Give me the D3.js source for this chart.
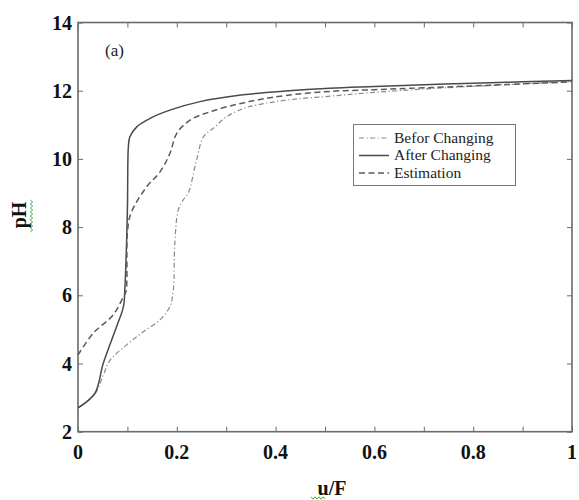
<!DOCTYPE html>
<html>
<head>
<meta charset="utf-8">
<script src="https://cdn.jsdelivr.net/npm/d3@7"></script>
<style>
  html, body { margin: 0; padding: 0; background: #fff; }
  svg { display: block; }
</style>
</head>
<body>
<svg id="chart" width="579" height="500"></svg>
<script>
// Titration curves: pH versus u/F
const uBefore = [0, 0.034, 0.051, 0.065, 0.098, 0.132, 0.166, 0.186, 0.193, 0.196, 0.203, 0.213, 0.223, 0.240, 0.254, 0.274, 0.301, 0.335, 0.362, 0.42, 0.51, 0.6, 0.7, 0.8, 0.9, 1.0];
const pHBefore = [2.7, 3.1, 3.65, 4.1, 4.54, 4.93, 5.28, 5.67, 6.16, 7.53, 8.5, 8.8, 8.99, 9.97, 10.65, 10.9, 11.24, 11.48, 11.58, 11.72, 11.84, 11.95, 12.05, 12.13, 12.2, 12.27];

const uAfter = [0, 0.034, 0.051, 0.078, 0.092, 0.095, 0.100, 0.102, 0.105, 0.119, 0.146, 0.186, 0.247, 0.334, 0.42, 0.51, 0.6, 0.672, 0.8, 0.9, 1.0];
const pHAfter = [2.7, 3.12, 4.0, 5.08, 5.67, 6.25, 8.5, 10.36, 10.65, 10.94, 11.19, 11.43, 11.68, 11.88, 11.99, 12.07, 12.12, 12.16, 12.22, 12.26, 12.3];

const uEst = [0, 0.031, 0.071, 0.092, 0.097, 0.100, 0.107, 0.139, 0.166, 0.186, 0.200, 0.227, 0.267, 0.321, 0.368, 0.42, 0.51, 0.6, 0.672, 0.8, 0.9, 1.0];
const pHEst = [4.25, 4.89, 5.42, 5.96, 6.1, 7.83, 8.4, 9.18, 9.62, 10.16, 10.75, 11.14, 11.38, 11.6, 11.74, 11.86, 11.98, 12.03, 12.07, 12.14, 12.2, 12.26];

const xTickLabels = ["0", "0.2", "0.4", "0.6", "0.8", "1"];
const yTickLabels = ["2", "4", "6", "8", "10", "12", "14"];
const legendNames = ["Befor Changing", "After Changing", "Estimation"];

const svg = d3.select("#chart");
const plotL = 78, plotR = 572, plotT = 22.5, plotB = 431.7;

const x = d3.scaleLinear().domain([0, 1]).range([plotL, plotR]);
const y = d3.scaleLinear().domain([2, 14]).range([plotB, plotT]);

const frameColor = "#6a6a6a";
const serif = "'Liberation Serif', 'Times New Roman', serif";

// Axes: labelled ticks at bottom/left, minor ticks on every side
const xMajor = xTickLabels.map(Number);
const xMinor = d3.range(0, 11).map(i => i / 10);
const yMajor = yTickLabels.map(Number);

const gBottom = svg.append("g").attr("transform", `translate(0,${plotB})`)
  .call(d3.axisBottom(x).tickValues(xMinor).tickSize(-5).tickFormat(""));
const gTop = svg.append("g").attr("transform", `translate(0,${plotT})`)
  .call(d3.axisTop(x).tickValues(xMinor).tickSize(-5).tickFormat(""));
const gLeft = svg.append("g").attr("transform", `translate(${plotL},0)`)
  .call(d3.axisLeft(y).tickValues(yMajor).tickSize(-5).tickFormat(""));
const gRight = svg.append("g").attr("transform", `translate(${plotR},0)`)
  .call(d3.axisRight(y).tickValues(yMajor).tickSize(-5).tickFormat(""));
[gBottom, gTop, gLeft, gRight].forEach(g => {
  g.select(".domain").remove();
  g.selectAll("line").attr("stroke", frameColor).attr("stroke-width", 1);
});

// Tick labels
svg.append("g").selectAll("text").data(xMajor).join("text")
  .attr("x", d => x(d)).attr("y", 459)
  .attr("text-anchor", "middle")
  .attr("font-family", serif).attr("font-weight", "bold").attr("font-size", 20)
  .attr("fill", "#111")
  .text((d, i) => xTickLabels[i]);

svg.append("g").selectAll("text").data(yMajor).join("text")
  .attr("x", 72).attr("y", d => y(d) + 7)
  .attr("text-anchor", "end")
  .attr("font-family", serif).attr("font-weight", "bold").attr("font-size", 20)
  .attr("fill", "#111")
  .text((d, i) => yTickLabels[i]);

// Plot frame
svg.append("rect")
  .attr("x", plotL).attr("y", plotT)
  .attr("width", plotR - plotL).attr("height", plotB - plotT)
  .attr("fill", "none").attr("stroke", frameColor).attr("stroke-width", 1.6);

// Curves
const series = [
  { u: uBefore, p: pHBefore, dash: "5,2.5,1.2,2.5", color: "#8a8a8a", w: 1.2 },
  { u: uAfter, p: pHAfter, dash: null, color: "#4a4a4a", w: 1.5 },
  { u: uEst, p: pHEst, dash: "6,3.5", color: "#5a5a5a", w: 1.5 }
];
const curveLine = d3.line().x(d => x(d[0])).y(d => y(d[1])).curve(d3.curveCatmullRom.alpha(0.5));
series.forEach(s => {
  svg.append("path")
    .datum(d3.zip(s.u, s.p))
    .attr("d", curveLine)
    .attr("fill", "none")
    .attr("stroke", s.color)
    .attr("stroke-width", s.w)
    .attr("stroke-dasharray", s.dash);
});

// Panel tag
svg.append("text")
  .attr("x", 105).attr("y", 56)
  .attr("font-family", serif).attr("font-size", 17).attr("fill", "#222")
  .text("(a)");

// Legend
const lg = svg.append("g");
lg.append("rect")
  .attr("x", 353.5).attr("y", 124.5).attr("width", 162).attr("height", 61)
  .attr("fill", "#fff").attr("stroke", "#777").attr("stroke-width", 1);
legendNames.forEach((name, i) => {
  const s = series[i];
  const yy = 138 + i * 17.5;
  lg.append("line")
    .attr("x1", 359).attr("x2", 389).attr("y1", yy).attr("y2", yy)
    .attr("stroke", s.color).attr("stroke-width", s.w)
    .attr("stroke-dasharray", s.dash);
  lg.append("text")
    .attr("x", 394).attr("y", yy + 4.5)
    .attr("font-family", serif).attr("font-size", 15.5).attr("fill", "#222")
    .text(name);
});

// Axis titles
svg.append("text")
  .attr("transform", "translate(26,215) rotate(-90)")
  .attr("text-anchor", "middle")
  .attr("font-family", serif).attr("font-weight", "bold").attr("font-size", 20)
  .attr("fill", "#111")
  .text("pH");

svg.append("text")
  .attr("x", 332).attr("y", 495)
  .attr("text-anchor", "middle")
  .attr("font-family", serif).attr("font-weight", "bold").attr("font-size", 20)
  .attr("fill", "#111")
  .text("u/F");

// Green wavy underlines beneath the axis titles
function wavy(x0, y0, len, horizontal) {
  const pts = [];
  for (let i = 0; i <= len; i += 2) {
    const off = (i / 2) % 2 === 0 ? -1.2 : 1.2;
    pts.push(horizontal ? [x0 + i, y0 + off] : [x0 + off, y0 + i]);
  }
  return d3.line()(pts);
}
svg.append("path").attr("d", wavy(31.5, 200, 32, false))
  .attr("fill", "none").attr("stroke", "#3fb03f").attr("stroke-width", 1);
svg.append("path").attr("d", wavy(311, 498, 14, true))
  .attr("fill", "none").attr("stroke", "#3fb03f").attr("stroke-width", 1);
</script>
</body>
</html>
